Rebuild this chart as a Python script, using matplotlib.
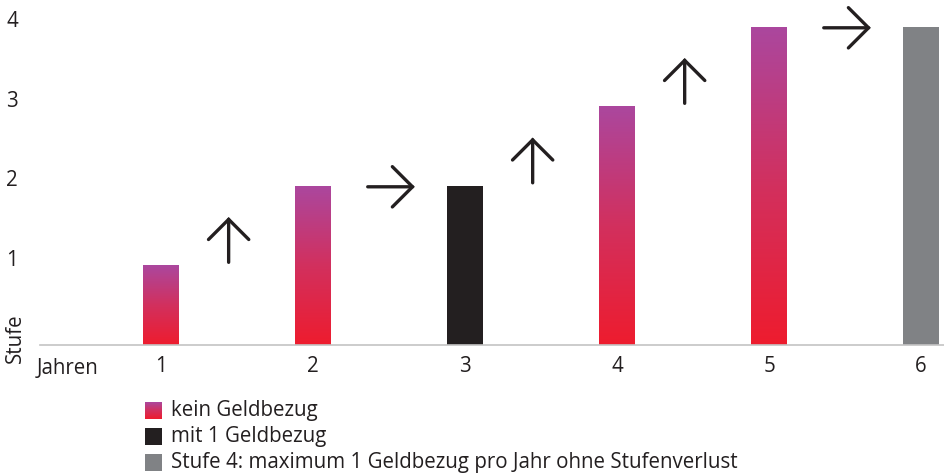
import numpy as np
import matplotlib.pyplot as plt
from matplotlib.colors import LinearSegmentedColormap

plt.rcParams['font.family'] = ['Open Sans', 'DejaVu Sans']

# Stufe reached after each year, and what happened that year
years = [1, 2, 3, 4, 5, 6]
stufe = [1, 2, 2, 3, 4, 4]
kind = ['kein', 'kein', 'mit', 'kein', 'kein', 'max']

legend_labels = ['kein Geldbezug', 'mit 1 Geldbezug',
                 'Stufe 4: maximum 1 Geldbezug pro Jahr ohne Stufenverlust']

BLACK = '#231f20'
GREY = '#808285'
TEXT = '#231f20'
FS = 14.8
grad = LinearSegmentedColormap.from_list('stufe', ['#ee1c2e', '#d2305e', '#ab479e'])
ramp = np.linspace(0, 1, 256).reshape(-1, 1)

fig = plt.figure(figsize=(9.44, 4.73), dpi=100)
ax = fig.add_axes([40 / 944, 128 / 473, 904 / 944, 345 / 473])

solid = {'kein': 'none', 'mit': BLACK, 'max': GREY}
bars = ax.bar(years, stufe, width=0.235, color=[solid[k] for k in kind],
              linewidth=0, zorder=2)

# gradient fill for the years without Geldbezug
for b, k in zip(bars, kind):
    if k == 'kein':
        x0, w, h = b.get_x(), b.get_width(), b.get_height()
        ax.imshow(ramp, cmap=grad, origin='lower', aspect='auto',
                  extent=[x0, x0 + w, 0, h], zorder=2)

# arrows between the years: up when the Stufe rises, right when it stays
for i in range(len(years) - 1):
    mid = (years[i] + years[i + 1]) / 2
    if stufe[i + 1] > stufe[i]:
        start, end = (mid - 0.055, stufe[i] + 0.04), (mid - 0.055, stufe[i] + 0.61)
    else:
        start, end = (mid - 0.14, stufe[i] - 0.01), (mid + 0.17, stufe[i] - 0.01)
    ax.annotate('', xy=end, xytext=start,
                arrowprops=dict(arrowstyle='->,head_length=1.0,head_width=1.0',
                                mutation_scale=14.5, lw=2.4, color=BLACK,
                                shrinkA=0, shrinkB=0, capstyle='round',
                                joinstyle='miter'))

ax.set_xlim(0.204, 6.151)
ax.set_ylim(0, 345 / 79.5)
ax.set_xticks(years)
ax.set_yticks([1, 2, 3, 4])
ax.tick_params(axis='both', length=0, labelsize=FS, labelcolor=TEXT)
ax.tick_params(axis='x', pad=8)
ax.tick_params(axis='y', pad=16)
for lab in ax.get_yticklabels():
    lab.set_va('baseline')

for side in ['top', 'right', 'left']:
    ax.spines[side].set_visible(False)
ax.spines['bottom'].set_color('#c4c4c4')
ax.spines['bottom'].set_linewidth(1.2)

fig.text(37 / 944, 1 - 368 / 473, 'Jahren', fontsize=FS, color=TEXT,
         ha='left', va='center')
fig.text(15 / 944, 1 - 363 / 473, 'Stufe', fontsize=FS, color=TEXT,
         rotation=90, ha='center', va='bottom')

# legend drawn as small squares with text beside them
rows = [410, 436, 462]
for i, (label, y) in enumerate(zip(legend_labels, rows)):
    sq = fig.add_axes([145 / 944, 1 - (y + 8.5) / 473, 17 / 944, 17 / 473])
    sq.set_axis_off()
    if i == 0:
        sq.imshow(ramp, cmap=grad, origin='lower', aspect='auto', extent=[0, 1, 0, 1])
    else:
        sq.add_patch(plt.Rectangle((0, 0), 1, 1, color=[BLACK, GREY][i - 1]))
    sq.set_xlim(0, 1)
    sq.set_ylim(0, 1)
    fig.text(171 / 944, 1 - y / 473, label, fontsize=FS, color=TEXT,
             ha='left', va='center')

fig.savefig('out.png', dpi=100)
